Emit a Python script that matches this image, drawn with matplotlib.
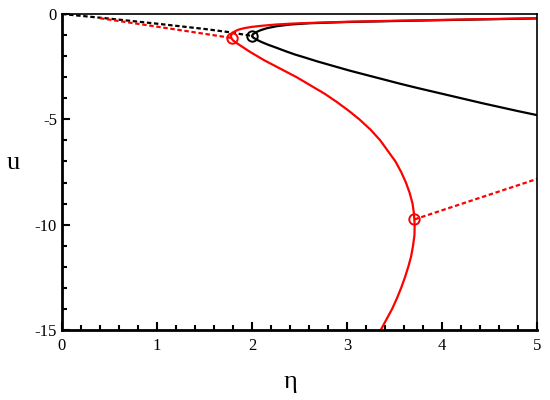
import matplotlib
matplotlib.use("Agg")
import matplotlib.pyplot as plt
from matplotlib.ticker import MultipleLocator

# Black branch (solid)
black_eta = [5.0, 4.0, 3.0, 2.6, 2.4, 2.26, 2.16, 2.09, 2.04, 2.01, 2.0, 2.005, 2.02, 2.05,
             2.1, 2.17, 2.25, 2.35, 2.45, 2.56, 2.68, 2.85, 3.03, 3.2, 3.38, 3.55, 3.73,
             3.9, 4.08, 4.25, 4.43, 4.6, 4.8, 5.0]
black_u = [-0.21, -0.29, -0.38, -0.44, -0.50, -0.58, -0.67, -0.77, -0.87, -0.96, -1.05,
           -1.09, -1.14, -1.22, -1.33, -1.46, -1.59, -1.76, -1.92, -2.07, -2.24, -2.46,
           -2.69, -2.89, -3.10, -3.30, -3.50, -3.68, -3.87, -4.05, -4.24, -4.41, -4.61, -4.8]
# Black dashed
black_d_eta = [0.0, 0.5, 1.0, 1.5, 1.74, 2.0]
black_d_u = [0.0, -0.22, -0.46, -0.71, -0.85, -1.04]
# Red branch (solid)
red_eta = [5.0, 4.5, 4.0, 3.5, 3.0, 2.7, 2.45, 2.25, 2.1, 2.0, 1.92, 1.86, 1.82, 1.795,
           1.78, 1.778, 1.785, 1.80, 1.82, 1.845, 1.98, 2.13, 2.30, 2.47, 2.62, 2.77, 2.90,
           3.02, 3.13, 3.25, 3.35, 3.43, 3.51, 3.57, 3.62, 3.66, 3.69, 3.705, 3.712, 3.71,
           3.695, 3.675, 3.645, 3.61, 3.57, 3.525, 3.475, 3.415, 3.355]
red_u = [-0.20, -0.24, -0.28, -0.32, -0.37, -0.41, -0.45, -0.50, -0.56, -0.61, -0.67,
         -0.74, -0.82, -0.91, -1.0, -1.08, -1.16, -1.25, -1.32, -1.4, -1.8, -2.2, -2.6,
         -3.0, -3.4, -3.8, -4.2, -4.6, -5.0, -5.5, -6.0, -6.5, -7.0, -7.5, -8.0, -8.5,
         -9.0, -9.5, -10.0, -10.5, -11.0, -11.5, -12.0, -12.5, -13.0, -13.5, -14.0,
         -14.5, -15.0]
# Red dashed segments
red_d1_eta = [0.4, 1.0, 1.5, 1.79]
red_d1_u = [-0.2, -0.6, -0.94, -1.14]
red_d2_eta = [3.71, 5.0]
red_d2_u = [-9.75, -7.83]
# Circle markers
black_pt_eta = [2.0]
black_pt_u = [-1.04]
red_pts_eta = [1.79, 3.71]
red_pts_u = [-1.14, -9.75]

plt.rcParams['font.family'] = ['Liberation Serif', 'DejaVu Serif']
plt.rcParams['axes.unicode_minus'] = False
fig = plt.figure(figsize=(5.5, 4.0), dpi=100)
ax = fig.add_axes([0.1127, 0.175, 0.8637, 0.79])

lw = 1.6
dash = (0, (2, 1.2))
ax.plot(black_d_eta, black_d_u, color='black', lw=lw, ls=dash)
ax.plot(black_eta, black_u, color='black', lw=lw)
ax.plot(red_d1_eta, red_d1_u, color='red', lw=lw, ls=dash)
ax.plot(red_d2_eta, red_d2_u, color='red', lw=lw, ls=dash)
ax.plot(red_eta, red_u, color='red', lw=lw)
ax.plot(black_pt_eta, black_pt_u, 'o', mfc='none', mec='black', ms=7.5, mew=1.4, ls='none')
ax.plot(red_pts_eta, red_pts_u, 'o', mfc='none', mec='red', ms=7.5, mew=1.4, ls='none')

ax.set_xlim(0, 5)
ax.set_ylim(-15, 0)
ax.xaxis.set_major_locator(MultipleLocator(1))
ax.xaxis.set_minor_locator(MultipleLocator(0.2))
ax.yaxis.set_major_locator(MultipleLocator(5))
ax.yaxis.set_minor_locator(MultipleLocator(1))
ax.tick_params(which='both', direction='in', top=False, right=False, labelsize=12, width=1.5)
ax.tick_params(which='major', length=6)
ax.tick_params(which='minor', length=3.5)
ax.tick_params(axis='x', pad=6)
for s in ['left', 'bottom']:
    ax.spines[s].set_linewidth(2)
for s in ['top', 'right']:
    ax.spines[s].set_linewidth(1.2)

ax.set_xlabel('η', fontsize=19, va='center')
ax.xaxis.set_label_coords(0.48, -0.165)
ax.set_ylabel('u', fontsize=19, rotation=0, va='center', ha='center')
ax.yaxis.set_label_coords(-0.103, 0.53)
fig.savefig('out.png', dpi=100)
